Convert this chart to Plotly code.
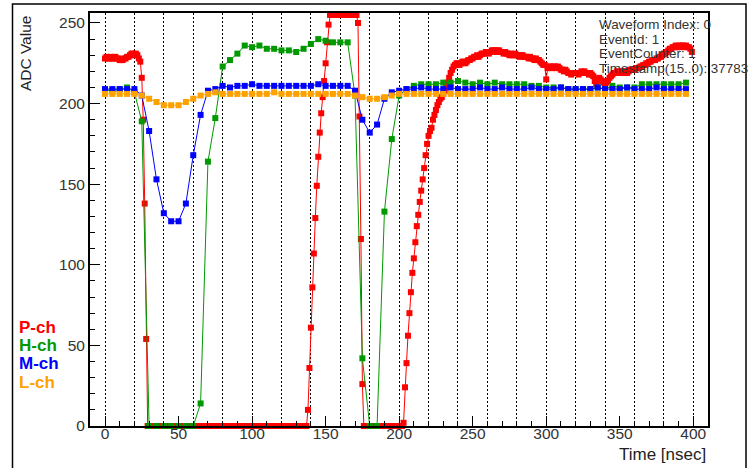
import plotly.graph_objects as go

# ---------------- data ----------------
# P-ch sampled every 1 ns (t = 0..399)
p_time = list(range(400))
p_ch = [
    228,229,228,228,229,228,228,229,228,228,227,227,227,228,228,229,229,230,231,231,
    230,231,230,228,226,216,190,138,54,0,0,0,0,0,0,0,0,0,0,0,
    0,0,0,0,0,0,0,0,0,0,0,0,0,0,0,0,0,0,0,0,
    0,0,0,0,0,0,0,0,0,0,0,0,0,0,0,0,0,0,0,0,
    0,0,0,0,0,0,0,0,0,0,0,0,0,0,0,0,0,0,0,0,
    0,0,0,0,0,0,0,0,0,0,0,0,0,0,0,0,0,0,0,0,
    0,0,0,0,0,0,0,0,0,0,0,0,0,0,0,0,0,0,10,36,
    61,86,107,129,149,167,182,194,204,214,225,238,249,255,255,255,255,255,255,255,
    255,255,255,255,255,255,255,255,255,255,255,255,250,192,116,26,0,0,0,0,
    0,0,0,0,0,0,0,0,0,0,0,0,0,0,0,0,0,0,0,0,
    0,0,0,2,24,39,56,70,83,95,104,114,124,131,139,146,153,160,168,175,
    180,183,185,190,193,196,199,201,203,204,206,208,210,213,216,219,221,223,224,225,
    225,224,225,226,226,225,226,227,227,228,228,229,229,230,229,230,231,231,231,232,
    232,231,232,233,233,233,232,233,233,232,232,231,232,231,231,230,231,230,230,231,
    230,230,229,230,230,229,229,229,228,229,228,228,227,228,227,227,226,225,224,224,
    215,222,223,223,222,223,223,222,223,222,221,221,220,221,220,219,219,218,219,219,
    219,219,218,219,220,219,220,219,219,218,219,218,217,214,212,215,216,215,214,213,
    212,213,214,216,217,218,219,219,220,219,220,220,219,220,220,219,220,221,221,221,
    221,222,222,222,223,223,224,224,225,225,226,226,227,227,227,228,228,229,229,230,
    231,231,232,233,234,234,235,235,236,235,236,235,236,236,235,236,235,235,234,232,
]

# H/M/L channels sampled every 5 ns (t = 0..395)
hml_time = list(range(0, 400, 5))
h_ch = [
    208,208,209,210,207,189,0,0,0,0,
    0,0,0,14,164,191,223,227,231,236,
    235,236,234,234,233,233,232,234,237,240,
    239,238,238,238,205,42,0,0,133,178,
    205,209,211,212,212,212,213,213,214,213,
    212,213,212,213,212,212,212,212,211,211,
    210,210,210,209,209,209,209,210,209,211,
    210,210,210,212,212,212,212,212,212,213,
]
m_ch = [
    209,209,209,209,209,205,183,153,132,127,
    127,138,168,193,208,209,211,210,211,211,
    212,211,211,211,211,211,211,211,211,212,
    211,211,211,211,208,190,182,187,203,207,
    208,209,209,210,209,209,209,210,209,209,
    209,210,209,209,210,209,209,209,210,209,
    209,209,210,209,209,209,209,210,209,209,
    209,210,209,209,209,210,209,209,209,209,
]
l_ch = [
    206,206,206,206,206,205,203,201,199,199,
    199,201,203,205,206,207,206,206,206,206,
    206,206,206,207,206,206,206,206,206,206,
    206,206,206,206,205,204,203,203,204,205,
    206,206,206,206,206,206,206,206,206,206,
    206,206,206,206,206,206,206,206,206,206,
    206,206,206,206,206,206,206,206,206,206,
    206,206,206,206,206,206,206,206,206,206,
]

channel_names = ["P-ch", "H-ch", "M-ch", "L-ch"]
channel_colors = ["#ff0000", "#009a00", "#0000ff", "#ffa200"]
info_lines = ["Waveform Index: 0", "EventId: 1", "EventCounter: 1", "Timestamp(15..0): 37783"]
x_title = "Time [nsec]"
y_title = "ADC Value"

# ---------------- figure ----------------
fig = go.Figure()
series = [(p_time, p_ch), (hml_time, h_ch), (hml_time, m_ch), (hml_time, l_ch)]
for (t, v), name, col in zip(series, channel_names, channel_colors):
    fig.add_trace(go.Scatter(
        x=t, y=v, mode="lines+markers", name=name,
        line=dict(color=col, width=1),
        marker=dict(color=col, size=6, symbol="square", line=dict(width=0)),
        cliponaxis=False, showlegend=False,
    ))

# empty trace on the overlay axis that carries the dotted 20 ns grid
fig.add_trace(go.Scatter(x=[], y=[], xaxis="x2", showlegend=False))

font_family = "Liberation Sans, Arial, sans-serif"
tick_font = dict(family=font_family, size=15.5, color="#333333")

fig.update_layout(
    width=750, height=468,
    margin=dict(l=90, r=42, t=13, b=42, autoexpand=False),
    paper_bgcolor="white", plot_bgcolor="white",
    xaxis=dict(
        range=[-10.2, 410], tick0=0, dtick=50, automargin=False,
        ticks="inside", ticklen=10, tickwidth=1, tickcolor="black",
        minor=dict(ticks="inside", ticklen=5, dtick=10, tick0=0, tickcolor="black", showgrid=False),
        showgrid=False, zeroline=False,
        showline=True, linecolor="black", linewidth=2, mirror=True,
        tickfont=tick_font, ticklabelstandoff=-8,
    ),
    xaxis2=dict(
        range=[-10.2, 410], overlaying="x", tick0=0, dtick=20, automargin=False,
        showgrid=True, gridcolor="black", gridwidth=1, griddash="2px,2px",
        showticklabels=False, ticks="", zeroline=False, showline=False,
    ),
    yaxis=dict(
        range=[0, 256.2], tick0=0, dtick=50, automargin=False,
        ticks="inside", ticklen=10, tickwidth=1, tickcolor="black",
        minor=dict(ticks="inside", ticklen=5, dtick=10, tick0=0, tickcolor="black", showgrid=False),
        showgrid=False, zeroline=False,
        showline=True, linecolor="black", linewidth=2, mirror=True,
        tickfont=tick_font,
    ),
)

annotations = []
# axis titles
annotations.append(dict(
    text=y_title, xref="paper", yref="paper", x=-0.105, y=1.0,
    xanchor="center", yanchor="top", textangle=-90, showarrow=False,
    font=dict(family=font_family, size=15.5, color="#222222"),
))
annotations.append(dict(
    text=x_title, xref="paper", yref="paper", x=1.0, y=-0.0678,
    xanchor="right", yanchor="middle", showarrow=False,
    font=dict(family=font_family, size=17, color="#222222"),
))
# channel labels (left legend)
legend_y = [327, 345, 363, 382]
for name, col, py in zip(channel_names, channel_colors, legend_y):
    annotations.append(dict(
        text="<b>%s</b>" % name, xref="paper", yref="paper",
        x=(17 - 90) / 618, y=(426 - py) / 413,
        xanchor="left", yanchor="middle", showarrow=False,
        font=dict(family=font_family, size=17, color=col),
    ))
# info block
info_y = [24.5, 39.2, 53.9, 68.6]
for line, py in zip(info_lines, info_y):
    annotations.append(dict(
        text=line, xref="paper", yref="paper",
        x=(597 - 90) / 618, y=(426 - py) / 413,
        xanchor="left", yanchor="middle", showarrow=False,
        font=dict(family=font_family, size=13.4, color="#333333"),
    ))
fig.update_layout(annotations=annotations)

# outer canvas frame
fig.add_shape(type="rect", xref="paper", yref="paper",
              x0=(12.5 - 90) / 618, x1=(746 - 90) / 618,
              y0=(426 - 480) / 413, y1=(426 - 4) / 413,
              line=dict(color="black", width=1.5), fillcolor="rgba(0,0,0,0)", layer="below")

fig.write_html("out.html", config={"displayModeBar": False},
               post_script="document.body.style.margin='0';")
